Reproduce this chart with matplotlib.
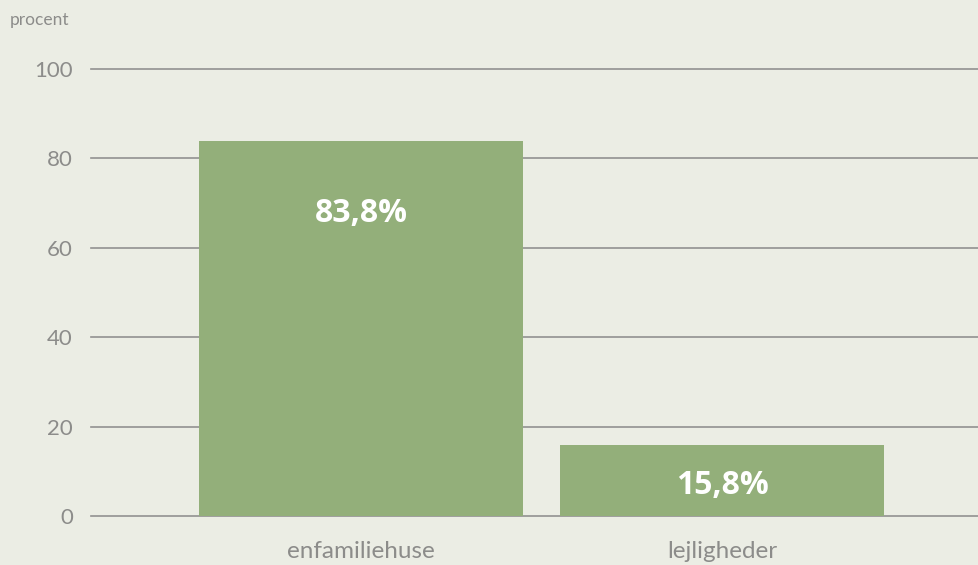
# Andel boliger fordelt på enfamiliehuse og lejligheder.
import matplotlib
matplotlib.use('Agg')
import matplotlib.pyplot as plt

kategorier = ['enfamiliehuse', 'lejligheder']
andele = [83.8, 15.8]
etiketter = ['83,8%', '15,8%']
yticks = [0, 20, 40, 60, 80, 100]

baggrund = '#EBEDE4'
groen = '#93AF7A'
graa = '#8C8C8A'

plt.rcParams['font.family'] = ['Lato', 'DejaVu Sans']

fig = plt.figure(figsize=(9.79, 5.65), dpi=100, facecolor=baggrund)
ax = fig.add_axes([91 / 979, 1 - 516 / 565, 1 - 91 / 979, 447 / 565])
ax.set_facecolor(baggrund)

x = range(len(kategorier))
ax.bar(x, andele, width=0.896, color=groen, zorder=2)

ax.set_ylim(0, 100)
ax.set_xlim(-0.747, 1.71)
ax.set_yticks(yticks)
ax.set_yticklabels([str(t) for t in yticks])
ax.set_xticks(list(x))
ax.set_xticklabels(kategorier)
ax.yaxis.grid(True, color='#919190', linewidth=1.2, zorder=1)
for line in ax.get_ygridlines():
    line.set_clip_on(False)
ax.tick_params(axis='y', length=0, pad=13, labelsize=16, labelcolor=graa)
ax.tick_params(axis='x', length=0, pad=18, labelsize=17.5, labelcolor=graa)
for s in ax.spines.values():
    s.set_visible(False)

# værdier inde i søjlerne
for i, (v, tekst) in enumerate(zip(andele, etiketter)):
    if v > 50:
        pos, dy = v, -52
    else:
        pos, dy = 0, 22
    ax.annotate(tekst, (i, pos), xytext=(0, dy), textcoords='offset points',
                ha='center', va='center', color='white', fontsize=23,
                fontweight='bold', family=['Open Sans', 'DejaVu Sans'])

fig.text(10 / 979, 1 - 20 / 565, 'procent', ha='left', va='center',
         fontsize=12.5, color=graa)

fig.savefig('out.png', dpi=100, facecolor=baggrund)
